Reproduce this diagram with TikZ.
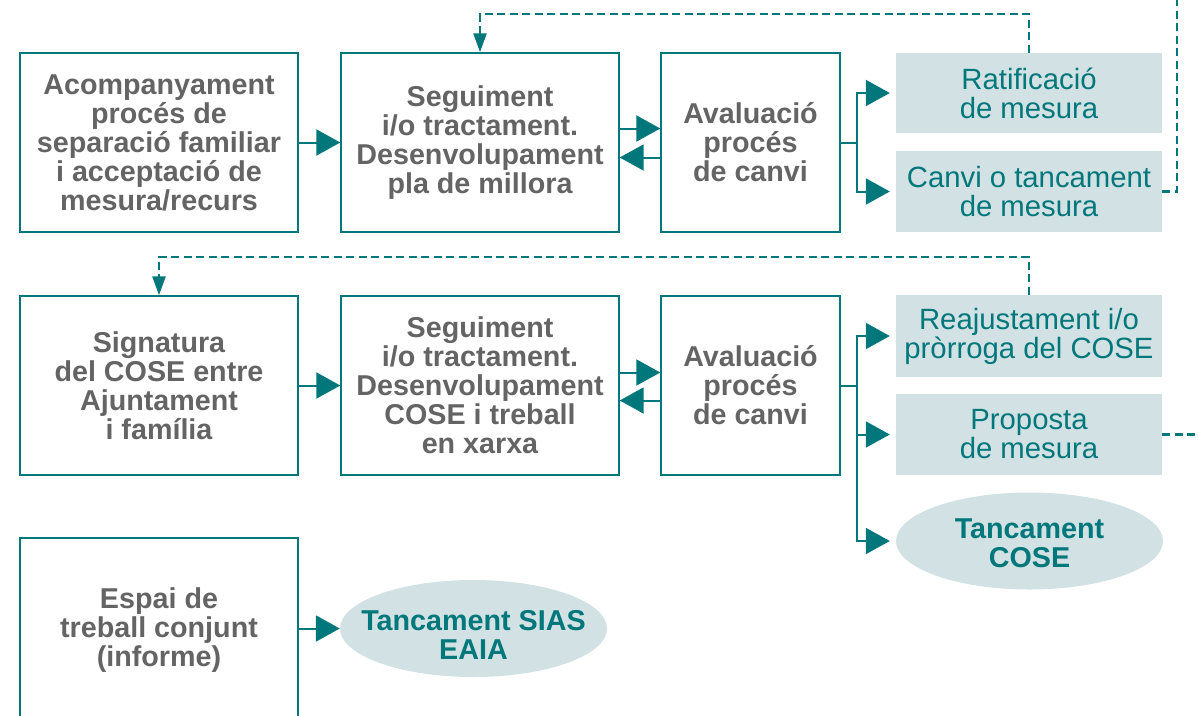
\documentclass[tikz,border=0pt]{standalone}
\usepackage{fontspec}
\setmainfont{Liberation Sans}
\usetikzlibrary{arrows.meta,shapes.geometric,calc}
\definecolor{teal}{RGB}{0,119,123}
\definecolor{lightfill}{RGB}{210,225,227}
\definecolor{graytext}{RGB}{100,100,100}
\tikzset{
  box/.style={draw=teal, line width=1.4pt, minimum width=278pt, minimum height=179pt, inner sep=0pt, align=center, text=graytext, font=\fontsize{28.7}{29}\selectfont\bfseries},
  evalbox/.style={box, minimum width=179pt},
  result/.style={fill=lightfill, minimum width=266pt, minimum height=81pt, inner sep=0pt, align=center, text=teal, font=\fontsize{29.3}{29}\selectfont},
  endell/.style={ellipse, fill=lightfill, minimum width=267pt, minimum height=97pt, inner sep=0pt},
  ellabel/.style={inner sep=0pt, align=center, text=teal, font=\fontsize{28.7}{29}\selectfont\bfseries},
  conn/.style={draw=teal, line width=2pt},
  arr/.style={conn, -{Triangle[length=24pt,width=26pt]}},
  dsh/.style={draw=teal, line width=2.6pt, dash pattern=on 8pt off 4.5pt},
  darr/.style={dsh, -{Triangle[length=19pt,width=13pt]}},
}
\begin{document}
\begin{tikzpicture}[x=1pt,y=-1pt]
\useasboundingbox (0,0) rectangle (1198,715);
\clip (0,0) rectangle (1198,715);
% row 1
\node[box] (a1) at (159,142.5) {Acompanyament\\procés de\\separació familiar\\i acceptació de\\mesura/recurs};
\node[box] (b1) at (480,142.5) {Seguiment\\i/o tractament.\\Desenvolupament\\pla de millora};
\node[evalbox] (c1) at (750.5,142.5) {Avaluació\\procés\\de canvi};
\node[result, minimum height=80pt] (r1) at (1029,93) {Ratificació\\de mesura};
\node[result] (r2) at (1029,191.5) {Canvi o tancament\\de mesura};
% row 2
\node[box] (a2) at (159,385.5) {Signatura\\del COSE entre\\Ajuntament\\i família};
\node[box] (b2) at (480,385.5) {Seguiment\\i/o tractament.\\Desenvolupament\\COSE i treball\\en xarxa};
\node[evalbox] (c2) at (750.5,385.5) {Avaluació\\procés\\de canvi};
\node[result, minimum height=82pt] (q1) at (1029,336) {Reajustament i/o\\pròrroga del COSE};
\node[result] (q2) at (1029,434.5) {Proposta\\de mesura};
\node[endell] (q3) at (1029.5,541) {};
\node[ellabel] (q3t) at ([yshift=-2pt]q3.center) {Tancament\\COSE};
% row 3
\node[box, minimum height=184pt] (a3) at (159,630) {Espai de\\treball conjunt\\(informe)};
\node[endell] (s) at (473.5,628.5) {};
\node[ellabel] (st) at ([yshift=-6.5pt]s.center) {Tancament SIAS\\EAIA};
% connectors row 1
\draw[arr] (a1.east) -- (b1.west);
\draw[arr] ([yshift=14pt]b1.east) -- ([yshift=14pt]c1.west);
\draw[arr] ([yshift=-15pt]c1.west) -- ([yshift=-15pt]b1.east);
\coordinate (j1) at (857,142.5);
\draw[conn] (c1.east) -- (j1);
\draw[arr, shorten >=6pt] (j1) |- (r1.west);
\draw[arr, shorten >=6pt] (j1) |- (r2.west);
\coordinate (t1) at (480,14);
\draw[darr] (r1.north) |- (t1) -- (b1.north);
\coordinate (e1) at (1177,-3);
\draw[dsh] (r2.east) -| (e1);
% connectors row 2
\draw[arr] (a2.east) -- (b2.west);
\draw[arr] ([yshift=13pt]b2.east) -- ([yshift=13pt]c2.west);
\draw[arr] ([yshift=-15pt]c2.west) -- ([yshift=-15pt]b2.east);
\coordinate (j2) at (857,385.5);
\draw[conn] (c2.east) -- (j2);
\draw[arr, shorten >=6pt] (j2) |- (q1.west);
\draw[arr, shorten >=6pt] (j2) |- (q2.west);
\draw[arr, shorten >=6pt] (j2) |- (q3.west);
\coordinate (t2) at (159,257);
\draw[darr] (q1.north) |- (t2) -- (a2.north);
\coordinate (e2) at (1201,434.5);
\draw[dsh] (q2.east) -- (e2);
% connector row 3
\draw[arr] (a3.east |- s.west) -- (s.west);
\end{tikzpicture}
\end{document}
